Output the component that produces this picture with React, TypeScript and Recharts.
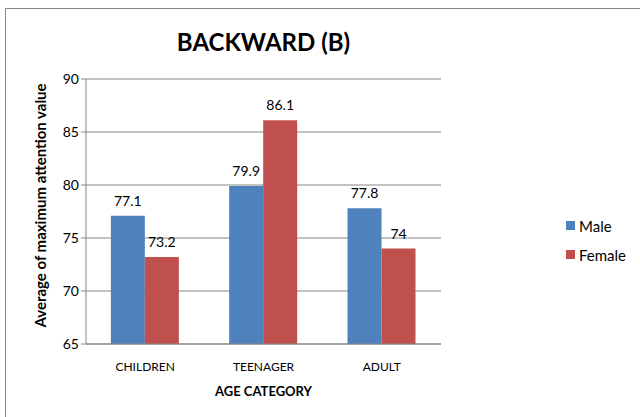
import React from 'react';
import { BarChart, Bar, XAxis, YAxis, CartesianGrid, LabelList, Legend, Label } from 'recharts';

const categories = ['CHILDREN', 'TEENAGER', 'ADULT'];
const maleValues = [77.1, 79.9, 77.8];
const femaleValues = [73.2, 86.1, 74];
const yTicks = [65, 70, 75, 80, 85, 90];
const edgeTicks = [0, 1, 2, 3];
const seriesOrder = ['Male', 'Female'];

const MALE = '#4F81BD';
const FEMALE = '#C0504D';
const GRID = '#868686';
const FONT = 'Lato, "Open Sans", sans-serif';

const data = categories.map((name, i) => ({
  name,
  Male: maleValues[i],
  Female: femaleValues[i],
}));

const LegendBox = ({ payload }: any) => {
  const items = seriesOrder
    .map((k) => (payload || []).find((p: any) => p.value === k))
    .filter(Boolean);
  return (
    <div style={{ fontFamily: FONT, fontSize: 15, color: '#000' }}>
      {items.map((p: any) => (
        <div key={p.value} style={{ display: 'flex', alignItems: 'center', height: 29 }}>
          <span style={{ width: 9, height: 9, background: p.color, marginRight: 4, display: 'inline-block' }} />
          <span>{p.value}</span>
        </div>
      ))}
    </div>
  );
};

export default function App() {
  return (
    <div style={{ position: 'fixed', left: 0, top: 0, width: 640, height: 417, background: '#fff', overflow: 'hidden' }}>
      <div style={{ position: 'absolute', left: 5, top: 8, width: 640, height: 420, border: '1px solid #868686' }} />
      <div
        style={{
          position: 'absolute',
          left: 86,
          width: 355,
          top: 27,
          textAlign: 'center',
          fontFamily: FONT,
          fontWeight: 'bold',
          fontSize: 24,
          color: '#000',
        }}
      >
        BACKWARD (B)
      </div>
      <div style={{ position: 'absolute', left: 0, top: 0 }}>
        <BarChart
          width={640}
          height={417}
          data={data}
          margin={{ top: 79, right: 129, left: 26, bottom: 43 }}
          barCategoryGap="21%"
          barGap={0}
        >
          <CartesianGrid vertical={false} stroke={GRID} />
          <XAxis
            xAxisId="edges"
            type="number"
            domain={[0, 3]}
            ticks={edgeTicks}
            height={0}
            axisLine={false}
            tickLine={{ stroke: GRID }}
            tickSize={5}
            tickFormatter={() => ''}
          />
          <XAxis
            dataKey="name"
            height={30}
            axisLine={{ stroke: GRID }}
            tickLine={false}
            tick={{ fill: '#000', fontSize: 12, fontFamily: FONT }}
            tickMargin={12}
          >
            <Label
              content={({ viewBox }: any) => (
                <text
                  x={viewBox.x + viewBox.width / 2}
                  y={viewBox.y + 52}
                  textAnchor="middle"
                  fontFamily={FONT}
                  fontWeight="bold"
                  fontSize={13}
                  fill="#000"
                >
                  AGE CATEGORY
                </text>
              )}
            />
          </XAxis>
          <YAxis
            width={60}
            domain={[65, 90]}
            ticks={yTicks}
            allowDataOverflow
            axisLine={{ stroke: GRID }}
            tickLine={{ stroke: GRID }}
            tickSize={5}
            tick={{ fill: '#000', fontSize: 14, fontFamily: FONT }}
          >
            <Label
              content={({ viewBox }: any) => {
                const cx = viewBox.x + 14;
                const cy = viewBox.y + viewBox.height / 2 - 6;
                return (
                  <text
                    x={cx}
                    y={cy}
                    transform={`rotate(-90 ${cx} ${cy})`}
                    textAnchor="middle"
                    dominantBaseline="central"
                    fontFamily={FONT}
                    fontWeight="bold"
                    fontSize={15}
                    fill="#000"
                  >
                    Average of maximum attention value
                  </text>
                );
              }}
            />
          </YAxis>
          <Legend
            layout="vertical"
            align="right"
            verticalAlign="top"
            content={<LegendBox />}
            wrapperStyle={{ left: 566, top: 211, width: 70 }}
          />
          <Bar dataKey="Male" fill={MALE} isAnimationActive={false}>
            <LabelList dataKey="Male" position="top" offset={10} fill="#000" fontSize={14} fontFamily={FONT} />
          </Bar>
          <Bar dataKey="Female" fill={FEMALE} isAnimationActive={false}>
            <LabelList dataKey="Female" position="top" offset={10} fill="#000" fontSize={14} fontFamily={FONT} />
          </Bar>
        </BarChart>
      </div>
    </div>
  );
}
